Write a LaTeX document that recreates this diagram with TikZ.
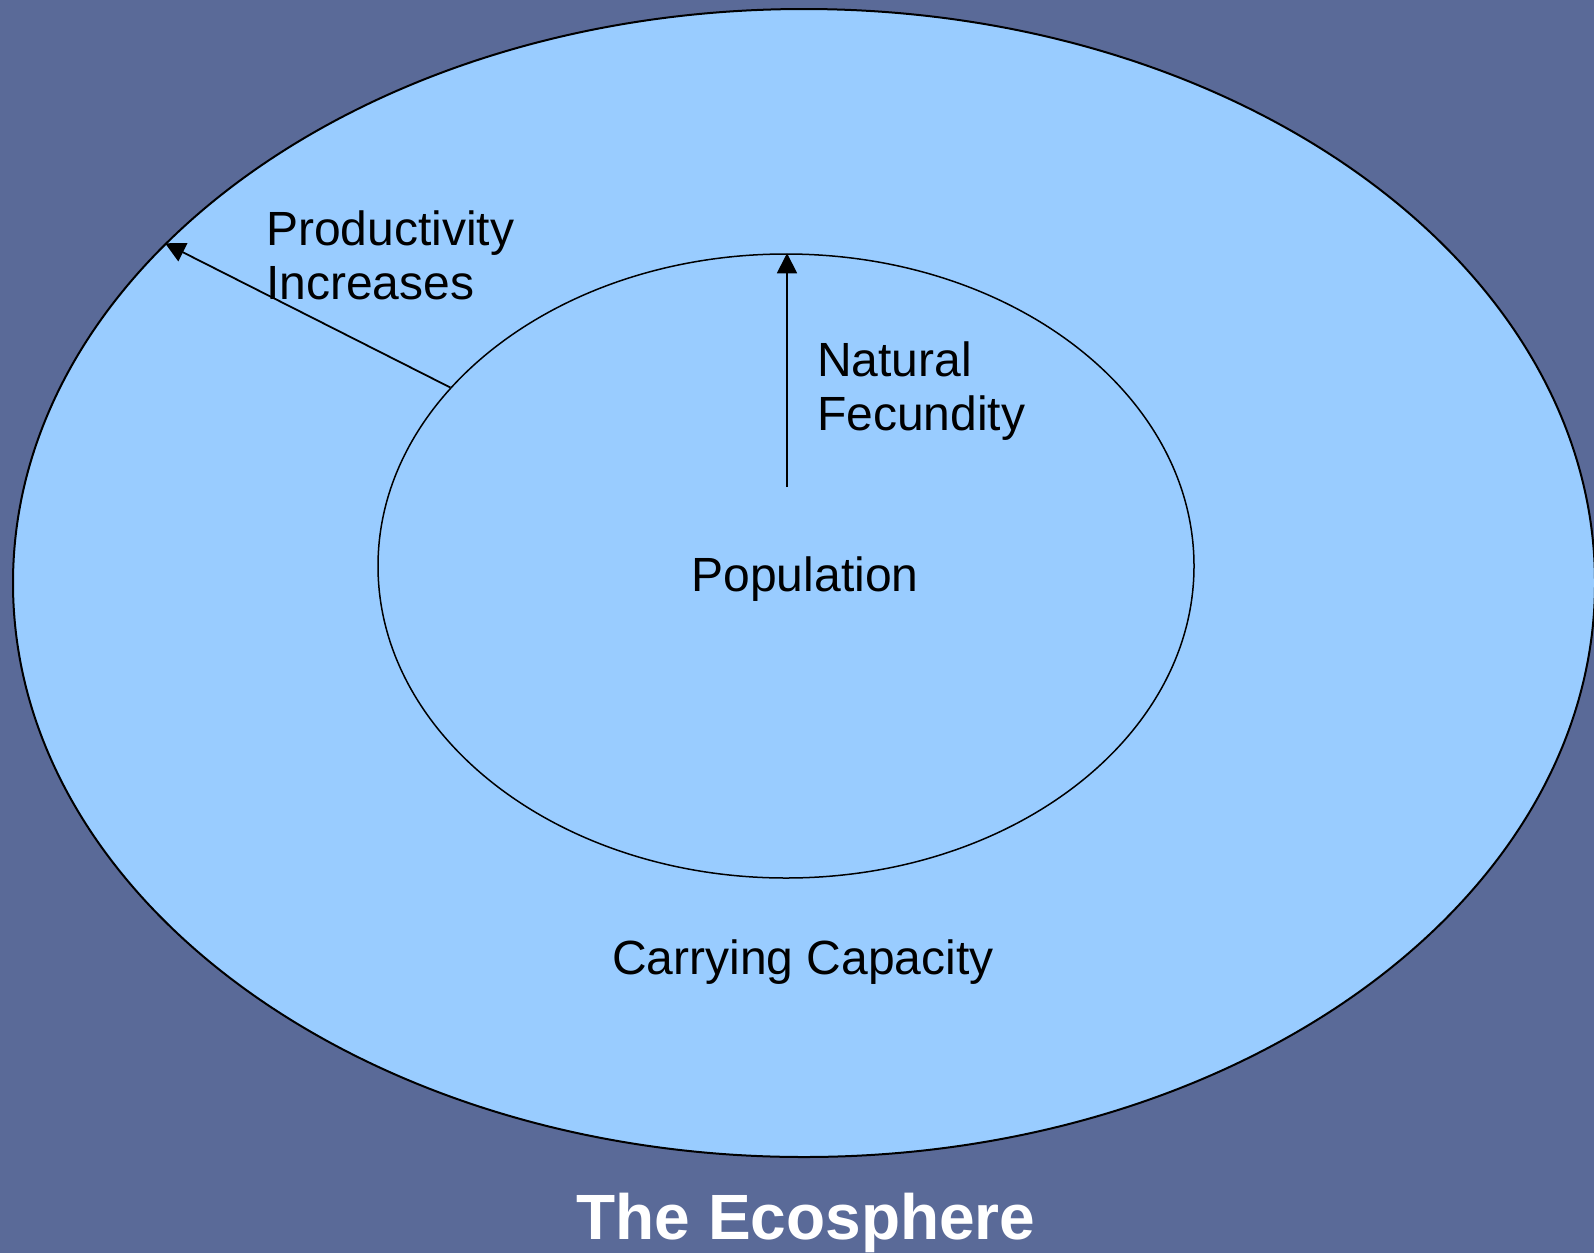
\documentclass[tikz,border=0pt]{standalone}
\usepackage{fontspec}
\setmainfont{Liberation Sans}
\usetikzlibrary{shapes.geometric,arrows.meta}
\definecolor{bgblue}{RGB}{90,106,152}
\definecolor{ellblue}{RGB}{153,204,255}
\begin{document}
\begin{tikzpicture}[x=1pt,y=-1pt,
  ring/.style={ellipse, draw=black, line width=2pt, fill=ellblue, inner sep=0pt},
  lbl/.style={inner sep=0pt, font=\fontsize{48}{54}\selectfont, text=black},
  arr/.style={line width=1.8pt, -{Triangle[length=20pt,width=20pt]}}]
\fill[bgblue] (0,0) rectangle (1594,1253);
\useasboundingbox (0,0) rectangle (1594,1253);
\node[ring, minimum width=1582pt, minimum height=1148pt] (outer) at (804,583) {};
\node[ring, line width=1.5pt, minimum width=816pt, minimum height=624pt] (inner) at (786,566) {};
\draw[arr] (inner.152.3) -- (outer.152.3);
\coordinate (fec) at (787,487);
\draw[arr] (fec) -- (fec |- inner.north);
\node[lbl, anchor=west, align=left] (prod) at (266,255) {Productivity\\Increases};
\node[lbl, anchor=west, align=left] (nat) at (817,391) {Natural\\Fecundity};
\node[lbl] (pop) at (805,579) {Population};
\node[lbl] (cc) at (803,962) {Carrying Capacity};
\node[inner sep=0pt, text=white, font=\fontsize{64}{68}\selectfont\bfseries] (eco) at (806,1223) {The Ecosphere};
\end{tikzpicture}
\end{document}
